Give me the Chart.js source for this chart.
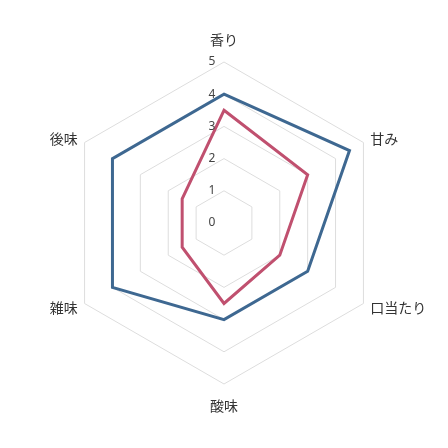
<!DOCTYPE html>
<html>
<head>
<meta charset="utf-8">
<script src="https://cdn.jsdelivr.net/npm/chart.js@4.4.0/dist/chart.umd.min.js"></script>
<style>
html,body{margin:0;padding:0;background:#fff;}
#wrap{width:448px;height:448px;}
</style>
</head>
<body>
<div id="wrap"><canvas id="c"></canvas></div>
<script>
const categories = ["香り", "甘み", "口当たり", "酸味", "雑味", "後味"];
const seriesBlue = [4, 4.5, 3, 3, 4, 4];
const seriesPink = [3.5, 3, 2, 2.5, 1.5, 1.5];
const tickValues = [0, 1, 2, 3, 4, 5];

const labelPlugin = {
  id: 'labelPlugin',
  afterDatasetsDraw(chart) {
    const s = chart.scales.r;
    const ctx = chart.ctx;
    ctx.save();
    // tick labels
    ctx.font = '12px "Noto Sans", "DejaVu Sans", sans-serif';
    ctx.fillStyle = '#444';
    ctx.textAlign = 'center';
    ctx.textBaseline = 'middle';
    tickValues.forEach(v => {
      const d = s.getDistanceFromCenterForValue(v);
      ctx.fillText(String(v), s.xCenter - 12, s.yCenter - d);
    });
    // point labels
    ctx.font = '14px "Noto Sans CJK JP", sans-serif';
    ctx.fillStyle = '#333';
    categories.forEach((lab, i) => {
      const ang = s.getIndexAngle(i) * 180 / Math.PI;
      const a = Math.round(ang) % 360;
      let extra = 8;
      if (a === 0 || a === 180) extra = 22;
      const p = s.getPointPosition(i, s.drawingArea + extra);
      if (a === 0 || a === 180) ctx.textAlign = 'center';
      else if (a < 180) ctx.textAlign = 'left';
      else ctx.textAlign = 'right';
      ctx.textBaseline = 'middle';
      ctx.fillText(lab, p.x, p.y);
    });
    ctx.restore();
  }
};

new Chart(document.getElementById('c'), {
  type: 'radar',
  data: {
    labels: categories,
    datasets: [
      {
        data: seriesBlue,
        borderColor: '#3e6891',
        backgroundColor: 'rgba(0,0,0,0)',
        borderWidth: 3,
        pointRadius: 0,
        fill: false
      },
      {
        data: seriesPink,
        borderColor: '#c0506f',
        backgroundColor: 'rgba(0,0,0,0)',
        borderWidth: 3,
        pointRadius: 0,
        fill: false
      }
    ]
  },
  options: {
    responsive: true,
    maintainAspectRatio: false,
    animation: false,
    layout: { padding: { left: 63, right: 63, top: 62, bottom: 64 } },
    plugins: { legend: { display: false }, tooltip: { enabled: false } },
    scales: {
      r: {
        min: 0,
        max: 5,
        ticks: { stepSize: 1, display: false },
        grid: { color: '#dddddd', lineWidth: 1 },
        angleLines: { display: false },
        pointLabels: { display: false }
      }
    }
  },
  plugins: [labelPlugin]
});
</script>
</body>
</html>
